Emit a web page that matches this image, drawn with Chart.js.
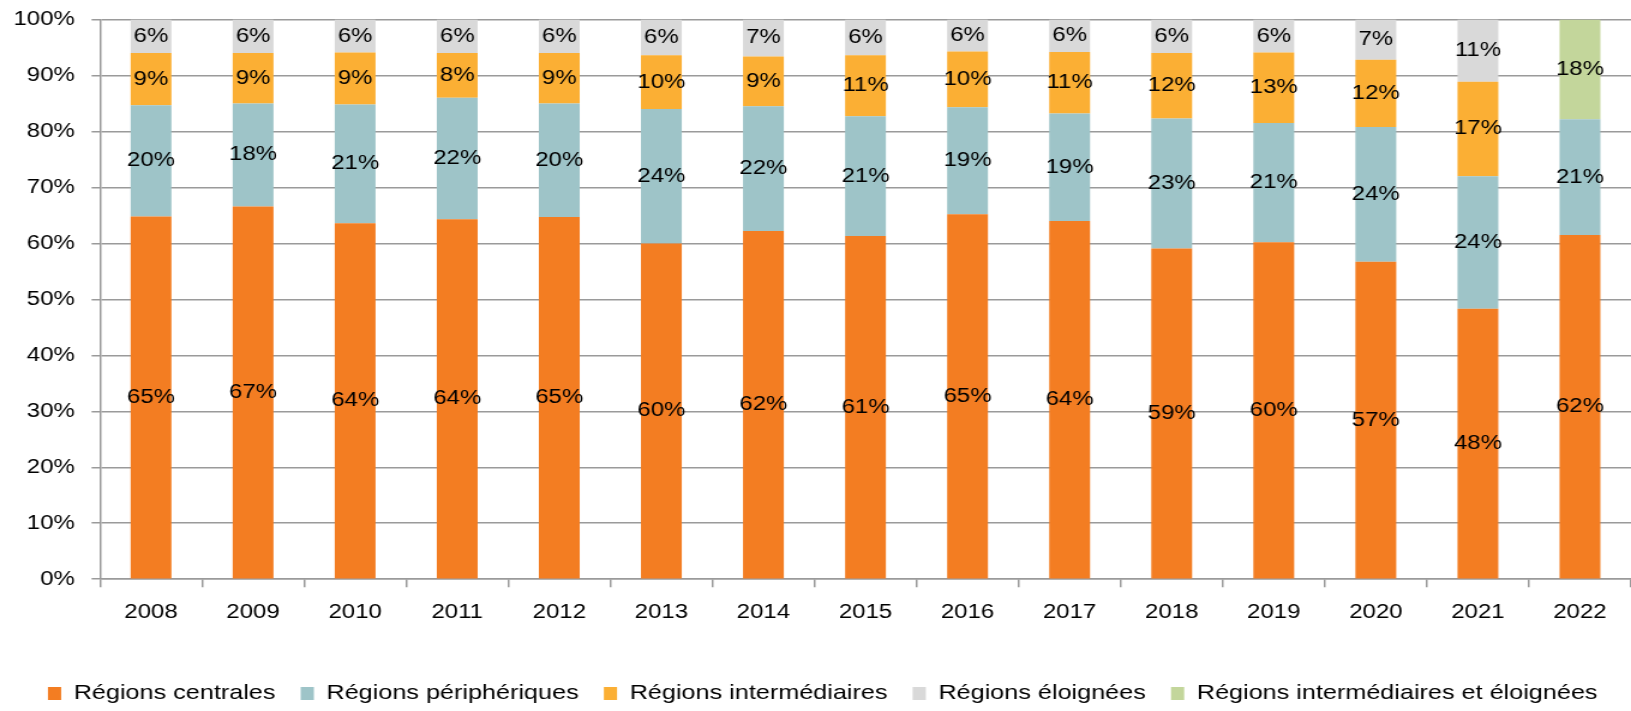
<!DOCTYPE html>
<html>
<head>
<meta charset="utf-8">
<script src="https://cdn.jsdelivr.net/npm/chart.js@4.4.1/dist/chart.umd.min.js"></script>
<style>
  html, body { margin: 0; padding: 0; background: #fff; }
  #regions { display: block; }
</style>
</head>
<body>
<!-- drawn narrow and stretched wide, like the original export -->
<canvas id="regions" width="1359" height="711" style="width:1631px;height:711px"></canvas>
<script>
const years = ["2008", "2009", "2010", "2011", "2012", "2013", "2014", "2015",
  "2016", "2017", "2018", "2019", "2020", "2021", "2022"];
const centrales = [64.8, 66.6, 63.6, 64.3, 64.7, 60.0, 62.2, 61.3, 65.2, 64.0, 59.1, 60.2, 56.7, 48.3, 61.5];
const peripheriques = [19.9, 18.4, 21.2, 21.7, 20.3, 24.0, 22.3, 21.4, 19.1, 19.2, 23.2, 21.3, 24.1, 23.7, 20.7];
const intermediaires = [9.3, 9.0, 9.3, 8.0, 9.0, 9.6, 8.9, 10.9, 10.0, 11.0, 11.7, 12.6, 12.0, 16.9, null];
const eloignees = [6.0, 6.0, 5.9, 6.0, 6.0, 6.4, 6.6, 6.4, 5.7, 5.8, 6.0, 5.9, 7.2, 11.1, null];
const interEloignees = [null, null, null, null, null, null, null, null, null, null, null, null, null, null, 17.8];
const yTicks = [0, 10, 20, 30, 40, 50, 60, 70, 80, 90, 100];

const FONT = "'Liberation Sans', Arial, sans-serif";
const GRID = "#9a9a9a";

// percentage written in the middle of each segment
const segmentLabels = {
  id: "segmentLabels",
  afterDatasetsDraw(chart) {
    const ctx = chart.ctx;
    ctx.save();
    ctx.font = "20px " + FONT;
    ctx.fillStyle = "#000";
    ctx.textAlign = "center";
    ctx.textBaseline = "middle";
    chart.data.datasets.forEach((ds, i) => {
      const meta = chart.getDatasetMeta(i);
      meta.data.forEach((bar, j) => {
        const v = ds.data[j];
        if (v == null || v === 0) return;
        const p = bar.getCenterPoint();
        ctx.fillText(Math.round(v) + "%", p.x, p.y);
      });
    });
    ctx.restore();
  }
};

const ctx = document.getElementById("regions").getContext("2d");
new Chart(ctx, {
  type: "bar",
  data: {
    labels: years,
    datasets: [
      { label: "Régions centrales", data: centrales, backgroundColor: "#F37D22" },
      { label: "Régions périphériques", data: peripheriques, backgroundColor: "#9EC4C8" },
      { label: "Régions intermédiaires", data: intermediaires, backgroundColor: "#FBAF34" },
      { label: "Régions éloignées", data: eloignees, backgroundColor: "#D9D9D9" },
      { label: "Régions intermédiaires et éloignées", data: interEloignees, backgroundColor: "#C3D69B" },
    ],
  },
  options: {
    responsive: false,
    animation: false,
    datasets: {
      bar: { categoryPercentage: 1, barPercentage: 0.4 },
    },
    layout: {
      padding: { top: 19.5, right: 0, bottom: -3, left: 12 },
    },
    scales: {
      x: {
        stacked: true,
        grid: {
          display: true,
          drawOnChartArea: false,
          drawTicks: true,
          tickLength: 8,
          color: GRID,
          lineWidth: 1.5,
        },
        border: { display: true, color: GRID, width: 1.5 },
        ticks: {
          color: "#000",
          font: { family: FONT, size: 20 },
          padding: 13,
          maxRotation: 0,
        },
        afterFit(scale) {
          scale.height = 82.8;
        },
      },
      y: {
        stacked: true,
        min: 0,
        max: 100,
        afterBuildTicks(scale) {
          scale.ticks = yTicks.map((v) => ({ value: v }));
        },
        grid: {
          color: GRID,
          lineWidth: 1.5,
          tickLength: 7,
        },
        border: { display: true, color: GRID, width: 1.5 },
        ticks: {
          color: "#000",
          font: { family: FONT, size: 20 },
          padding: 14,
          callback: (v) => v + "%",
        },
        afterFit(scale) {
          scale.width = 71.3;
          scale.paddingTop = 0;
        },
      },
    },
    plugins: {
      tooltip: { enabled: false },
      legend: {
        position: "bottom",
        labels: {
          color: "#000",
          font: { family: FONT, size: 21 },
          boxWidth: 11,
          boxHeight: 13,
          padding: 21,
        },
      },
    },
  },
  plugins: [segmentLabels],
});
</script>
</body>
</html>
